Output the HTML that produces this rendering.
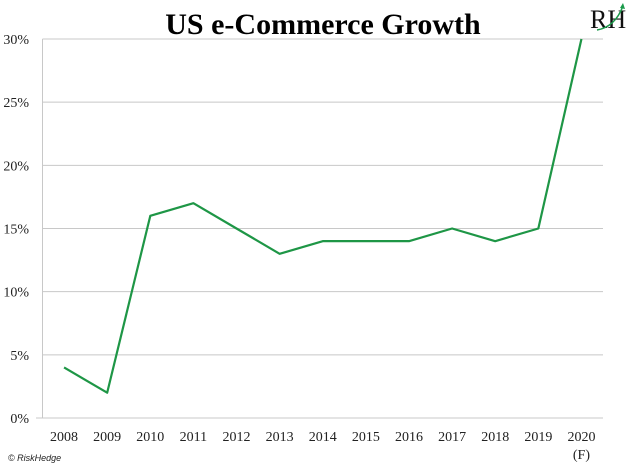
<!DOCTYPE html>
<html><head><meta charset="utf-8"><style>
body{margin:0;background:#fff;width:630px;height:466px;overflow:hidden}
svg{display:block}
</style></head><body>
<svg width="630" height="466">
<text x="323" y="34" text-anchor="middle" font-family="Liberation Serif, serif" font-weight="bold" font-size="30" fill="#000">US e-Commerce Growth</text>
<g>
<text x="590" y="28" font-family="Liberation Serif, serif" font-size="26" fill="#111">RH</text>
<path d="M597,30 Q615,27 623,6" stroke="#1a9a4a" stroke-width="1.5" fill="none"/>
<path d="M620,8 L623,3 L625,9 Z" fill="#1a9a4a"/>
</g>
<g id="grid"></g>
<g id="yt"></g>
<g id="xt"></g>
<g id="series"></g>
<text x="8" y="461" font-family="Liberation Sans, sans-serif" font-style="italic" font-size="9" fill="#222">© RiskHedge</text>
</svg>
<script>
const categories=['2008','2009','2010','2011','2012','2013','2014','2015','2016','2017','2018','2019','2020'];
const values=[4,2,16,17,15,13,14,14,14,15,14,15,30];
const yTicks=[0,5,10,15,20,25,30];
const NS='http://www.w3.org/2000/svg';
const L=42.5,R=603,T=39,B=418,ymax=30;
const bw=(R-L)/categories.length;
const x=i=>L+bw*(i+0.5);
const y=v=>B-(v/ymax)*(B-T);
function mk(t,a,p){const e=document.createElementNS(NS,t);for(const k in a)e.setAttribute(k,a[k]);p.appendChild(e);return e;}
const g=document.getElementById('grid'),yt=document.getElementById('yt'),xt=document.getElementById('xt'),s=document.getElementById('series');
yTicks.forEach(v=>{
 const ln=mk('line',{x1:v===0?36:L,x2:R,y1:y(v),y2:y(v),stroke:'#c8c8c8','stroke-width':1},g);
 
 
 const t=mk('text',{x:29,y:y(v)+5,'text-anchor':'end','font-family':'Liberation Serif, serif','font-size':14,fill:'#222'},yt);
 t.textContent=v+'%';
 
 
});
const ax=mk('line',{x1:L,x2:L,y1:T,y2:B,stroke:'#c8c8c8','stroke-width':1},g);


categories.forEach((c,i)=>{
 const t=mk('text',{x:x(i),y:441,'text-anchor':'middle','font-family':'Liberation Serif, serif','font-size':14,fill:'#222'},xt);
 t.textContent=c;
 
 
});
const f=mk('text',{x:x(categories.length-1),y:459,'text-anchor':'middle','font-family':'Liberation Serif, serif','font-size':14,fill:'#222'},xt);
f.textContent='(F)';


const pl=mk('polyline',{points:values.map((v,i)=>x(i)+','+y(v)).join(' '),fill:'none',stroke:'#1e9646','stroke-width':2.2,'stroke-linejoin':'round'},s);


</script>
</body></html>
